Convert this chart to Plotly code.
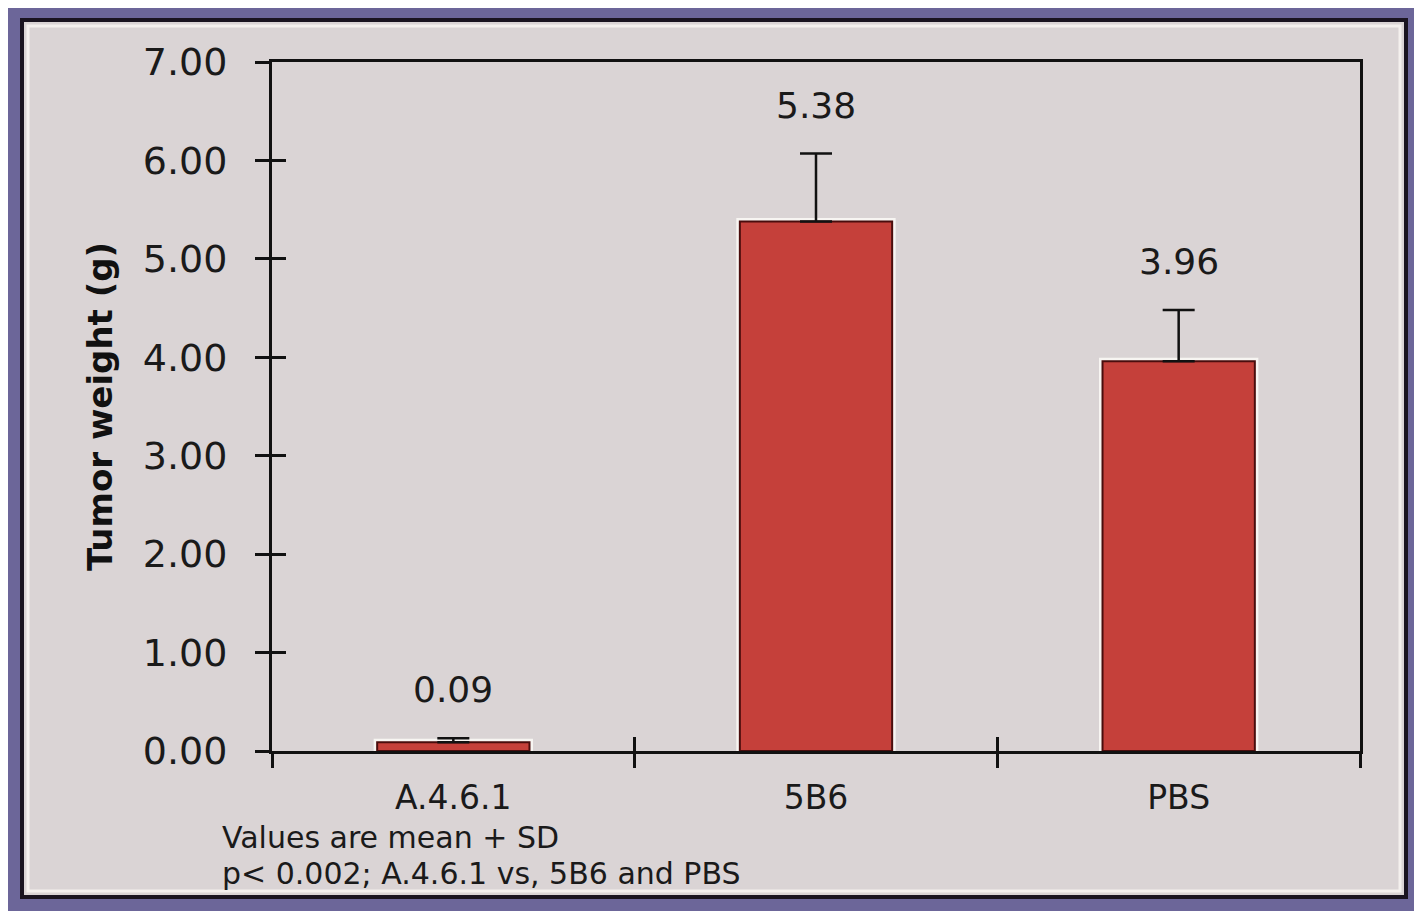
import plotly.graph_objects as go

categories = ["A.4.6.1", "5B6", "PBS"]
means = [0.09, 5.38, 3.96]
sd = [0.04, 0.69, 0.52]
value_labels = ["0.09", "5.38", "3.96"]
y_tickvals = [0, 1, 2, 3, 4, 5, 6, 7]
y_ticktext = ["0.00", "1.00", "2.00", "3.00", "4.00", "5.00", "6.00", "7.00"]

FONT = "DejaVu Sans"
BAR = "#c5403a"
PANEL = "#dad4d5"
BORDER = "#6c6699"
INK = "#1a1a1a"

# page body has an 8px margin: figure is sized to the visible window
OFF = 8
W, H = 1422 - OFF, 911 - OFF
L, R, T, B = 264, 62, 54, 160
pw = W - L - R
ph = H - T - B


def px_x(p):
    return (p - OFF - L) / pw


def px_y(p):
    return (H - B - (p - OFF)) / ph


fig = go.Figure()
# white outer outline
fig.add_trace(go.Bar(
    x=categories, y=means, width=0.42,
    marker=dict(color=BAR, line=dict(color="#f7f5f2", width=7)),
    showlegend=False, hoverinfo="skip",
))
# bar with dark inner edge and error bars
fig.add_trace(go.Bar(
    x=categories, y=means, width=0.42,
    marker=dict(color=BAR, line=dict(color="#4a0d0d", width=2)),
    error_y=dict(type="data", symmetric=False, array=sd, arrayminus=[0] * len(sd),
                 color="#111111", thickness=2.5, width=16),
    showlegend=False, hoverinfo="skip",
))
# invisible helper trace to carry inside-tick overlays
fig.add_trace(go.Scatter(x=categories, y=means, xaxis="x2", yaxis="y2",
                         mode="markers", marker=dict(opacity=0), showlegend=False,
                         hoverinfo="skip"))

for c, m, s, t in zip(categories, means, sd, value_labels):
    fig.add_annotation(x=c, y=m + s, text=t, showarrow=False, yanchor="bottom",
                       yshift=26, font=dict(family=FONT, size=36, color=INK))

fig.add_annotation(xref="paper", yref="paper", x=px_x(220), y=px_y(838),
                   xanchor="left", yanchor="middle", text="Values are mean + SD",
                   showarrow=False, font=dict(family=FONT, size=30, color=INK))
fig.add_annotation(xref="paper", yref="paper", x=px_x(220), y=px_y(873),
                   xanchor="left", yanchor="middle",
                   text="p< 0.002; A.4.6.1 vs, 5B6 and PBS",
                   showarrow=False, font=dict(family=FONT, size=30, color=INK))

# panel frame decoration
fig.add_shape(type="rect", xref="paper", yref="paper",
              x0=px_x(22), x1=px_x(1406), y0=px_y(897), y1=px_y(20),
              line=dict(color="#1a1420", width=4), fillcolor=PANEL, layer="below")
fig.add_shape(type="rect", xref="paper", yref="paper",
              x0=px_x(28), x1=px_x(1400), y0=px_y(891), y1=px_y(26),
              line=dict(color="#f4f0ee", width=3), fillcolor="rgba(0,0,0,0)", layer="below")

fig.update_layout(
    width=W, height=H,
    margin=dict(l=L, r=R, t=T, b=B),
    paper_bgcolor=BORDER,
    plot_bgcolor="#ddd8d8",
    barmode="overlay",
    xaxis=dict(
        type="category", range=[-0.5, 2.5], tickson="boundaries",
        ticks="outside", ticklen=14, tickwidth=3, tickcolor="#111",
        showline=True, linecolor="#111", linewidth=3, mirror=True,
        showgrid=False, zeroline=False, ticklabelstandoff=15,
        tickfont=dict(family=FONT, size=33, color=INK),
    ),
    xaxis2=dict(
        type="category", range=[-0.5, 2.5], tickson="boundaries", overlaying="x",
        ticks="inside", ticklen=14, tickwidth=3, tickcolor="#111",
        showticklabels=False, showgrid=False, zeroline=False, showline=False,
        matches="x",
    ),
    yaxis=dict(
        range=[0, 7], tickvals=y_tickvals, ticktext=y_ticktext,
        ticks="outside", ticklen=14, tickwidth=3, tickcolor="#111",
        showline=True, linecolor="#111", linewidth=3, mirror=True,
        showgrid=False, zeroline=False, ticklabelstandoff=20,
        tickfont=dict(family=FONT, size=38, color=INK),
        title=dict(text="<b>Tumor weight (g)</b>", standoff=20,
                   font=dict(family=FONT, size=34, color="#111")),
    ),
    yaxis2=dict(
        range=[0, 7], tickvals=y_tickvals, overlaying="y",
        ticks="inside", ticklen=14, tickwidth=3, tickcolor="#111",
        showticklabels=False, showgrid=False, zeroline=False, showline=False,
        matches="y",
    ),
)

fig.write_html("out.html")
